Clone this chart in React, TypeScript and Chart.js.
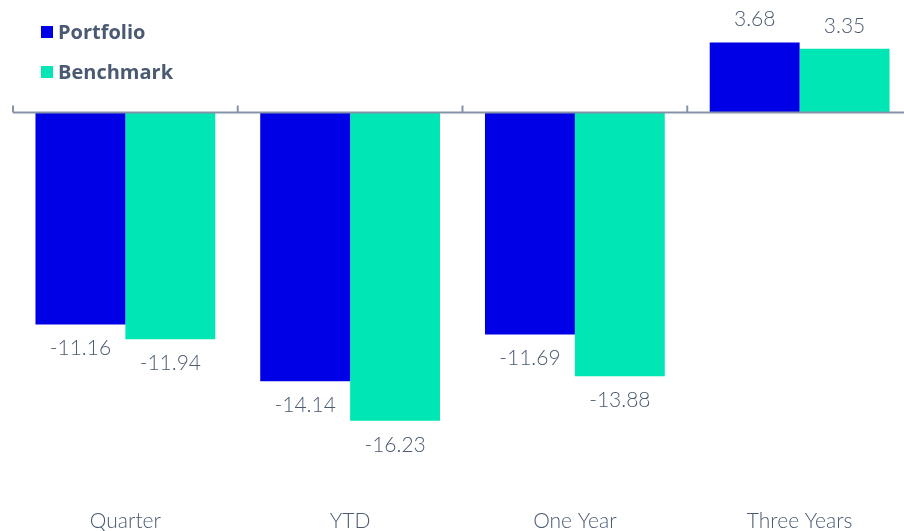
import React, { useEffect, useRef } from "react";
import { Chart, registerables } from "chart.js";

Chart.register(...registerables);

const categories = ["Quarter", "YTD", "One Year", "Three Years"];
const portfolio = [-11.16, -14.14, -11.69, 3.68];
const benchmark = [-11.94, -16.23, -13.88, 3.35];
const seriesNames = ["Portfolio", "Benchmark"];
const seriesColors = ["#0000E6", "#00E6B4"];

const TEXT = "#4A5A72";
const AXIS = "#8593A8";

const zeroLinePlugin = {
  id: "zeroLine",
  afterDatasetsDraw(chart: any) {
    const { ctx, chartArea, scales } = chart;
    const x = scales.x;
    const y0 = scales.y.getPixelForValue(0);
    const half = (x.width / categories.length) / 2;
    ctx.save();
    ctx.strokeStyle = AXIS;
    ctx.lineWidth = 2;
    ctx.beginPath();
    ctx.moveTo(chartArea.left, y0);
    ctx.lineTo(chartArea.right, y0);
    ctx.stroke();
    for (let i = 0; i <= categories.length; i++) {
      const px = i < categories.length ? x.getPixelForTick(i) - half : x.getPixelForTick(i - 1) + half;
      ctx.beginPath();
      ctx.moveTo(px, y0);
      ctx.lineTo(px, y0 - 7);
      ctx.stroke();
    }
    ctx.restore();
  },
};

const valueLabelPlugin = {
  id: "valueLabels",
  afterDatasetsDraw(chart: any) {
    const { ctx } = chart;
    ctx.save();
    ctx.font = "300 21px Lato";
    ctx.fillStyle = TEXT;
    ctx.textAlign = "center";
    ctx.textBaseline = "middle";
    chart.data.datasets.forEach((ds: any, di: number) => {
      const meta = chart.getDatasetMeta(di);
      meta.data.forEach((bar: any, i: number) => {
        const v = ds.data[i];
        const y = v >= 0 ? bar.y - 23 : bar.y + 24;
        ctx.fillText(v.toFixed(2), bar.x, y);
      });
    });
    ctx.restore();
  },
};

const legendPlugin = {
  id: "customLegend",
  afterDraw(chart: any) {
    const { ctx } = chart;
    ctx.save();
    ctx.font = "bold 20px 'Open Sans'";
    ctx.textBaseline = "middle";
    ctx.textAlign = "left";
    chart.data.datasets.forEach((ds: any, i: number) => {
      const cy = 32 + i * 40;
      ctx.fillStyle = ds.backgroundColor;
      ctx.fillRect(41, cy - 6, 12, 12);
      ctx.fillStyle = TEXT;
      ctx.fillText(ds.label, 58, cy + 1);
    });
    ctx.restore();
  },
};

export default function App() {
  const ref = useRef<HTMLCanvasElement | null>(null);
  useEffect(() => {
    if (!ref.current) return;
    const chart = new Chart(ref.current, {
      type: "bar",
      data: {
        labels: categories,
        datasets: [
          { label: seriesNames[0], data: portfolio, backgroundColor: seriesColors[0] },
          { label: seriesNames[1], data: benchmark, backgroundColor: seriesColors[1] },
        ],
      },
      options: {
        animation: false,
        responsive: false,
        maintainAspectRatio: false,
        layout: { padding: { left: 13, right: 0, top: 17.5, bottom: 0 } },
        datasets: { bar: { categoryPercentage: 0.8, barPercentage: 1.0 } },
        plugins: { legend: { display: false }, tooltip: { enabled: false } },
        scales: {
          x: {
            grid: { display: false, drawTicks: false },
            border: { display: false },
            ticks: { color: TEXT, font: { family: "Lato", size: 21, weight: "300" }, padding: 16.5, maxRotation: 0 },
            afterFit: (s: any) => { s.height = 38.5; },
          },
          y: {
            display: false,
            min: -20,
            max: 5,
          },
        },
      },
      plugins: [zeroLinePlugin, valueLabelPlugin, legendPlugin],
    });
    return () => chart.destroy();
  }, []);
  return (
    <div style={{ position: "fixed", left: 0, top: 0, width: 904, height: 531, overflow: "hidden", background: "#fff" }}>
      <canvas ref={ref} width={912} height={531} style={{ display: "block" }} />
    </div>
  );
}
